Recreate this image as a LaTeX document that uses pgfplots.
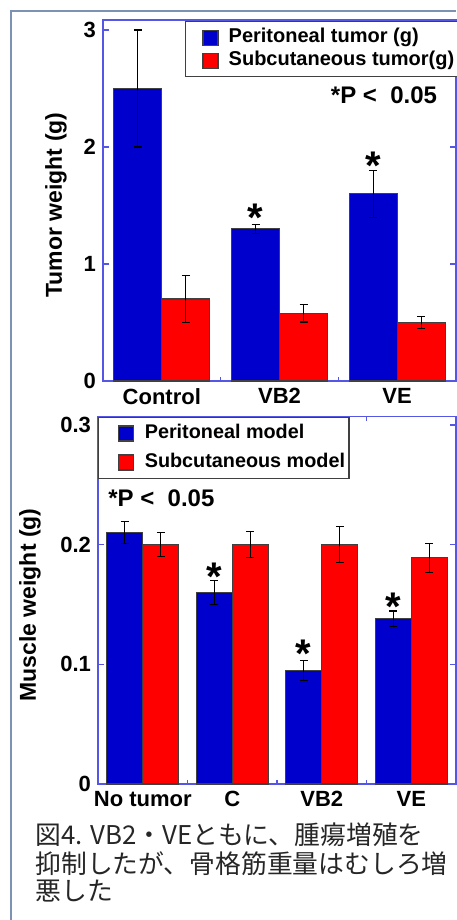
\documentclass[border=0pt]{standalone}
\usepackage{fontspec}
\setmainfont{Liberation Sans}
\newfontfamily\jp{Noto Sans CJK JP}
\usepackage{pgfplots}
\pgfplotsset{compat=1.18}
\definecolor{barblue}{RGB}{0,0,204}
\definecolor{barred}{RGB}{255,0,0}
\definecolor{axblue}{RGB}{85,85,230}
\definecolor{framecol}{RGB}{125,145,178}
\pgfplotsset{
  mystyle/.style={
    scale only axis,
    ybar=0pt,
    axis line style={axblue, line width=0.8pt},
    tick style={axblue, line width=0.8pt},
    tick align=inside,
    xtick style={/pgfplots/major tick length=2pt},
    ytick style={/pgfplots/major tick length=3pt},
    extra x tick style={major tick length=0pt, tick style={draw=none}},
    /pgf/number format/assume math mode=true,
    ticklabel style={font=\bfseries\fontsize{11}{12}\selectfont},
    error bars/error bar style={black, line width=0.6pt},
    error bars/error mark=-,
    error bars/error mark options={rotate=90, black, line width=0.6pt, mark size=2pt},
  },
  bluebar/.style={draw=black!75, line width=0.6pt, fill=barblue},
  redbar/.style={draw=black!75, line width=0.6pt, fill=barred},
}
\begin{document}
\begin{tikzpicture}
\useasboundingbox (0pt,0pt) rectangle (228pt,-460pt);
% outer frame
\draw[framecol, line width=0.9pt] (5.5pt,-460pt) -- (5.5pt,-5.5pt) -- (228pt,-5.5pt);

% ---------- top chart ----------
\begin{axis}[mystyle,
  at={(51.5pt,-190.5pt)}, anchor=south west,
  width=176.5pt, height=180.5pt,
  xmin=-0.5, xmax=2.5, ymin=0, ymax=3.085,
  bar width=24pt,
  xtick={0.5,1.5}, xticklabels={},
  extra x ticks={0,1,2}, extra x tick labels={Control,VB2,VE},
  ytick={0,1,2,3},
  ylabel={Tumor weight (g)},
  every axis y label/.style={at={(axis description cs:-0.133,0.4875)}, rotate=90, anchor=center, font=\bfseries\fontsize{11.5}{12}\selectfont},
  legend style={at={(0.232,0.997)}, anchor=north west, draw=black!75, line width=0.6pt, fill=white,
    font=\bfseries\fontsize{10}{11}\selectfont, inner xsep=3pt, inner ysep=2.4pt,
    row sep=0.3pt, column sep=4pt,
    nodes={inner xsep=1pt, inner ysep=1pt, text height=7.2pt, text depth=2pt}},
  legend cell align=left,
  legend image code/.code={\path (0pt,0pt); \draw[#1] (5.5pt,-3.75pt) rectangle (13pt,3.75pt);},
]
\addplot[bluebar, error bars/.cd, y dir=both, y explicit] coordinates {
  (0,2.50) +- (0,0.50)
  (1,1.30) +- (0,0.04)
  (2,1.60) +- (0,0.20)
};
\addplot[redbar, error bars/.cd, y dir=both, y explicit] coordinates {
  (0,0.70) +- (0,0.20)
  (1,0.58) +- (0,0.075)
  (2,0.50) +- (0,0.05)
};
\legend{Peritoneal tumor (g), Subcutaneous tumor(g)}
\node[font=\bfseries\fontsize{20}{20}\selectfont, anchor=base] at (axis cs:0.796,1.275) {*};
\node[font=\bfseries\fontsize{20}{20}\selectfont, anchor=base] at (axis cs:1.796,1.725) {*};
\node[font=\bfseries\fontsize{12}{12}\selectfont] at (axis description cs:0.796,0.792) {*P <\ \ 0.05};
\end{axis}

% ---------- bottom chart ----------
\begin{axis}[mystyle,
  at={(49pt,-392pt)}, anchor=south west,
  width=179pt, height=183.75pt,
  xmin=-0.5, xmax=3.5, ymin=0, ymax=0.307,
  bar width=18pt,
  xtick={0.5,1.5,2.5}, xticklabels={},
  extra x ticks={0,1,2,3}, extra x tick labels={No tumor,C,VB2,VE},
  ytick={0,0.1,0.2,0.3},
  yticklabels={0,0.1,0.2,0.3},
  ylabel={Muscle weight (g)},
  every axis y label/.style={at={(axis description cs:-0.19,0.487)}, rotate=90, anchor=center, font=\bfseries\fontsize{11.5}{12}\selectfont},
  legend style={at={(0,0.999)}, anchor=north west, draw=black!75, line width=0.6pt, fill=white,
    font=\bfseries\fontsize{9.9}{11}\selectfont, inner xsep=1.5pt, inner ysep=2.4pt,
    row sep=3.3pt, column sep=5pt,
    nodes={inner xsep=0.5pt, inner ysep=1pt, text height=7.2pt, text depth=2pt}},
  legend cell align=left,
  legend image code/.code={\path (0pt,0pt); \draw[#1] (8pt,-3.75pt) rectangle (15.5pt,3.75pt);},
]
\addplot[bluebar, error bars/.cd, y dir=both, y explicit] coordinates {
  (0,0.210) +- (0,0.009)
  (1,0.160) +- (0,0.010)
  (2,0.095) +- (0,0.0085)
  (3,0.138) +- (0,0.0065)
};
\addplot[redbar, error bars/.cd, y dir=both, y explicit] coordinates {
  (0,0.200) +- (0,0.010)
  (1,0.200) +- (0,0.011)
  (2,0.200) +- (0,0.015)
  (3,0.189) +- (0,0.012)
};
\legend{Peritoneal model, Subcutaneous model}
\node[font=\bfseries\fontsize{20}{20}\selectfont, anchor=base] at (axis cs:0.799,0.1615) {*};
\node[font=\bfseries\fontsize{20}{20}\selectfont, anchor=base] at (axis cs:1.799,0.0971) {*};
\node[font=\bfseries\fontsize{20}{20}\selectfont, anchor=base] at (axis cs:2.799,0.1365) {*};
\node[font=\bfseries\fontsize{12}{12}\selectfont] at (axis description cs:0.177,0.778) {*P <\ \ 0.05};
\end{axis}

% ---------- caption ----------
\node[anchor=west, inner sep=0pt, text=black!85, font=\jp\fontsize{12.9}{14}\selectfont] at (17.5pt,-417.5pt) {図4. VB2・VEともに、腫瘍増殖を};
\node[anchor=west, inner sep=0pt, text=black!85, font=\jp\fontsize{12.9}{14}\selectfont] at (17.5pt,-432pt) {抑制したが、骨格筋重量はむしろ増};
\node[anchor=west, inner sep=0pt, text=black!85, font=\jp\fontsize{12.9}{14}\selectfont] at (17.5pt,-445.5pt) {悪した};
\end{tikzpicture}
\end{document}
